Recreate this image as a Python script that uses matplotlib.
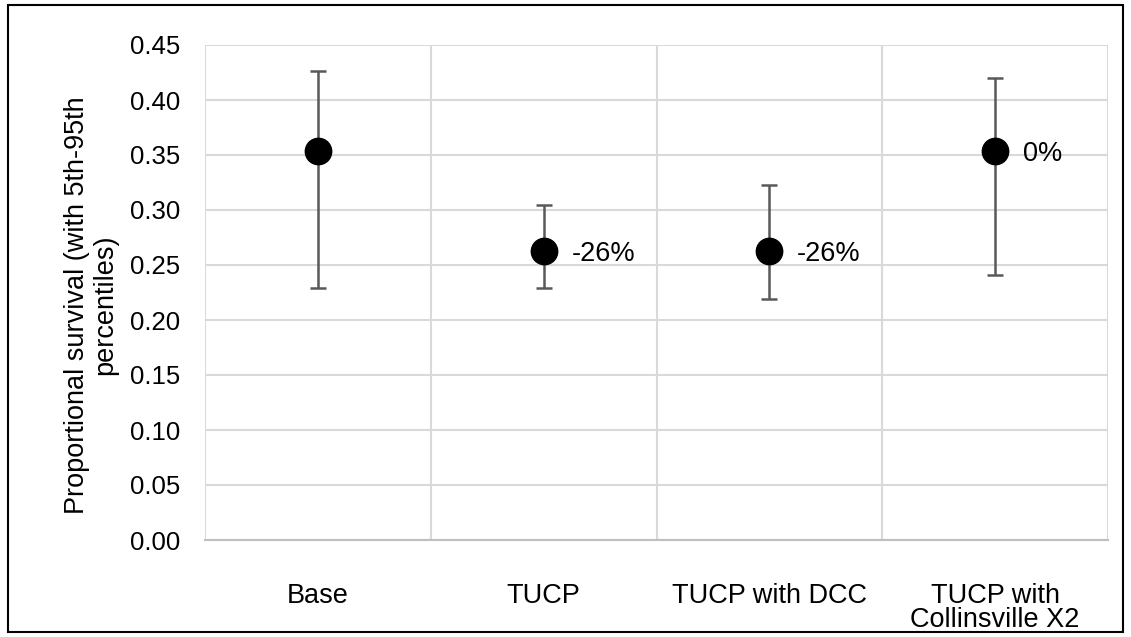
import matplotlib
matplotlib.use("Agg")
from matplotlib import pyplot as plt
from matplotlib.patches import Rectangle
import numpy as np

plt.rcParams['font.family'] = ['Liberation Sans', 'DejaVu Sans']

categories = ["Base", "TUCP", "TUCP with DCC", "TUCP with\nCollinsville X2"]
survival = [0.354, 0.263, 0.263, 0.354]
p95 = [0.426, 0.305, 0.323, 0.420]
p5 = [0.229, 0.229, 0.219, 0.241]
labels = ["", "-26%", "-26%", "0%"]

fs = 19.5

fig = plt.figure(figsize=(11.31, 6.37), dpi=100)
ax = fig.add_axes([205 / 1131, 1 - 540 / 637, (1108 - 205) / 1131, (540 - 45) / 637])

x = np.arange(len(categories))
surv = np.array(survival)
yerr = np.vstack([surv - np.array(p5), np.array(p95) - surv])

ax.errorbar(x, surv, yerr=yerr, fmt='none', ecolor='#595959', elinewidth=1.8,
            capsize=6, capthick=1.8, zorder=3)
ax.plot(x, surv, 'o', color='black', markersize=19, zorder=4)

for xi, yi, lab in zip(x, surv, labels):
    if lab:
        ax.annotate(lab, (xi, yi), xytext=(20, 0), textcoords='offset points',
                    va='center_baseline', ha='left', fontsize=fs)

ax.set_xlim(-0.5, len(categories) - 0.5)
ax.set_ylim(0, 0.45)
ax.set_yticks(np.arange(0, 0.451, 0.05))
ax.set_yticklabels([f"{v:.2f}" for v in np.arange(0, 0.451, 0.05)])
ax.set_xticks(x)
ax.set_xticklabels(categories, linespacing=0.9)
ax.set_xticks(np.arange(-0.5, len(categories), 1), minor=True)

ax.grid(axis='y', which='major', color='#d9d9d9', linewidth=1.5)
ax.grid(axis='x', which='minor', color='#d9d9d9', linewidth=1.5)
ax.set_axisbelow(True)
for side in ['top', 'right', 'left']:
    ax.spines[side].set_visible(False)
ax.spines['bottom'].set_color('#bfbfbf')
ax.spines['bottom'].set_linewidth(1.5)
ax.tick_params(axis='both', which='both', length=0, labelsize=fs, colors='black')
ax.tick_params(axis='y', labelsize=18.5, pad=18)
ax.tick_params(axis='x', pad=31)

ax.set_ylabel("Proportional survival (with 5th-95th\npercentiles)", fontsize=fs,
              linespacing=1.1)
ax.yaxis.set_label_coords(-0.096, 0.475)

# outer frame
fig.patches.append(Rectangle((8 / 1131, 5 / 637), 1115 / 1131, 627 / 637,
                             transform=fig.transFigure, fill=False,
                             edgecolor='black', linewidth=1.5))

fig.savefig("out.png", dpi=100)
